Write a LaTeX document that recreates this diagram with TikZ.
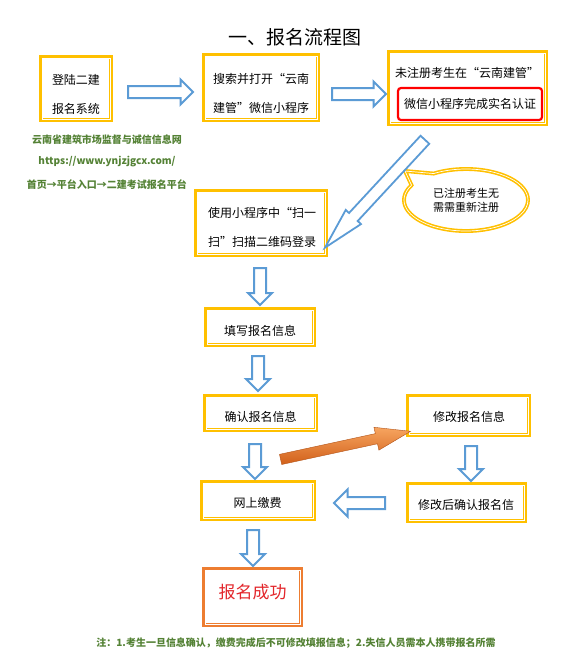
\documentclass[tikz,border=0pt]{standalone}
\usepackage{fontspec}
\setmainfont{Noto Sans CJK SC}
\usetikzlibrary{shapes.arrows,shapes.callouts,shapes.geometric}
\definecolor{gold}{HTML}{FFC000}
\definecolor{oframe}{HTML}{ED7D31}
\definecolor{barrow}{HTML}{5B9BD5}
\definecolor{gtext}{RGB}{84,130,53}
\definecolor{oL}{HTML}{F7A560}
\definecolor{oD}{HTML}{D2601A}
\definecolor{rtext}{HTML}{E3262B}
\tikzset{
  frame/.style={draw=#1, line width=4, fill=white, inner sep=0, outer sep=0},
  btext/.style={font=\fontsize{12}{29}\selectfont, align=center, inner sep=0},
  gnote/.style={font=\fontsize{10}{12}\selectfont\bfseries, text=gtext, inner sep=0},
  barr/.style={single arrow, draw=barrow, line width=2, fill=white, inner xsep=0, inner ysep=5,
    minimum width=22, single arrow head extend=6},
}
\newcommand\gframe[6]{%
  \node[frame=#6, minimum width={#4-#2-4}, minimum height={#5-#3-4}] (#1) at ({(#2+#4)/2},{(#3+#5)/2}) {};
  \draw[white, line width=0.7] ([xshift=0.9pt,yshift=-0.9pt]#1.north west) rectangle ([xshift=-0.9pt,yshift=0.9pt]#1.south east);
}
\begin{document}
\begin{tikzpicture}[x=1pt,y=-1pt]
\fill[white] (0,0) rectangle (567,662);
\useasboundingbox (0,0) rectangle (567,662);

% title
\node[inner sep=0, font=\fontsize{19}{22}\selectfont] (title) at (295,37) {一、报名流程图};

% boxes
\gframe{b1}{39}{55}{113}{122}{gold}
\node[btext] (t1) at (76,94.5) {登陆二建\\报名系统};

\gframe{b2}{202}{53}{320}{122}{gold}
\node[btext] (t2) at (261,93) {搜索并打开“云南\\建管”微信小程序};

\gframe{b3}{387}{50}{548}{126}{gold}
\node[btext] (t3) at (467,73) {未注册考生在“云南建管”};
\node[draw=red, line width=2.2, rounded corners=3, fill=white, minimum width=144,
  minimum height=32, btext] (red) at (470,104) {微信小程序完成实名认证};

\gframe{b4}{194}{189}{328}{257}{gold}
\node[btext] (t4) at (262,227.5) {使用小程序中“扫一\\扫”扫描二维码登录};

\gframe{b5}{204}{307}{316}{347}{gold}
\node[btext] (t5) at (260,330.5) {填写报名信息};

\gframe{b6}{203}{394}{318}{432}{gold}
\node[btext] (t6) at (260.5,416.5) {确认报名信息};

\gframe{b7}{406}{394}{531}{437}{gold}
\node[btext] (t7) at (469,417) {修改报名信息};

\gframe{b8}{406}{482}{527}{523}{gold}
\node[btext] (t8) at (466,505) {修改后确认报名信};

\gframe{b9}{200}{480}{316}{521}{gold}
\node[btext] (t9) at (257.5,503) {网上缴费};

\gframe{b10}{202}{567}{303}{627}{oframe}
\node[inner sep=0, text=rtext, font=\fontsize{17}{20}\selectfont] (t10) at (252.5,592) {报名成功};

% green notes
\node[gnote] (g1) at (107,140) {云南省建筑市场监督与诚信信息网};
\node[gnote] (g2) at (107,162) {https://www.ynjzjgcx.com/};
\node[gnote] (g3) at (107,185) {首页→平台入口→二建考试报名平台};
\node[gnote] (g4) at (296,643) {注：1.考生一旦信息确认，缴费完成后不可修改填报信息；2.失信人员需本人携带报名所需};

% bubble
\node[ellipse callout, draw=gold, line width=1.6, double=white, double distance=0.7,
  minimum width=124, minimum height=62, callout absolute pointer={(405,171)},
  callout pointer arc=30, inner sep=0, align=center,
  font=\fontsize{11}{14}\selectfont] (bub) at (466,200) {已注册考生无\\需需重新注册};

% blue hollow arrows
\node[barr, minimum height=65, minimum width=23, single arrow head extend=6.5] (a1) at (157.5,92) {};
\node[barr, minimum height=54, minimum width=23, single arrow head extend=6.5] (a2) at (356,94) {};
\node[barr, line width=1.8, minimum height=147, minimum width=19, single arrow head extend=4.5,
  single arrow tip angle=28, rotate=-132.8] (a3) at (383,185) {};
\node[barr, minimum height=37, rotate=-90] (a4) at (260,283.5) {};
\node[barr, minimum height=35, rotate=-90] (a5) at (258,370.5) {};
\node[barr, minimum height=35, rotate=-90] (a6) at (255,458.5) {};
\node[barr, minimum height=35, rotate=-90] (a7) at (471,460.5) {};
\node[barr, minimum height=51, minimum width=25, single arrow head extend=7.5, rotate=180] (a8) at (362.5,503) {};
\node[barr, minimum height=36, rotate=-90] (a9) at (253,545) {};

% orange arrow
\node[single arrow, minimum height=133, minimum width=23, single arrow head extend=6.5,
  single arrow tip angle=37, inner xsep=0, inner ysep=5, top color=oL, bottom color=oD,
  draw=oD!85!black, line width=0.4, rotate=12.2] (oa) at (338,447) {};
\end{tikzpicture}
\end{document}
